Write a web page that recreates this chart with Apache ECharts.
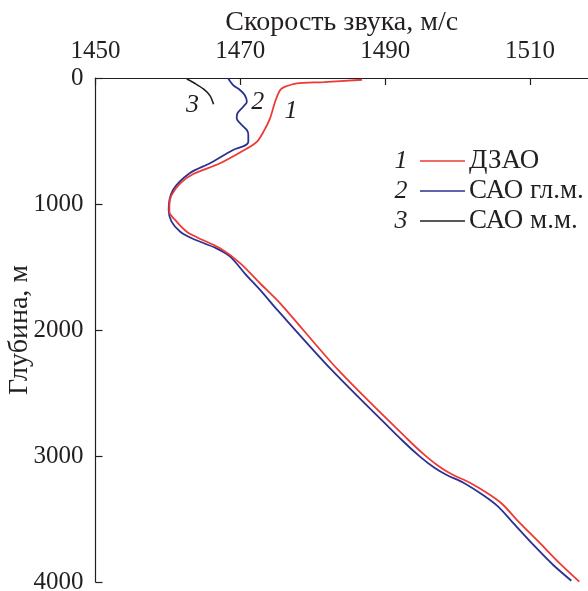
<!DOCTYPE html>
<html><head><meta charset="utf-8">
<script src="https://cdn.jsdelivr.net/npm/echarts@6/dist/echarts.min.js"></script>
<style>html,body{margin:0;padding:0;background:#fff}#c{width:588px;height:591px}</style>
</head><body><div id="c"></div>
<script>
// Sound speed (m/s) vs depth (m)
const seriesNames = ['ДЗАО', 'САО гл.м.', 'САО м.м.'];
const seriesNums = ['1', '2', '3'];
const seriesColors = ['#ee3a34', '#2b3190', '#231f20'];
const xTicks = [1450, 1470, 1490, 1510];

const dzaoSpeed = [1486.8,1481.5,1477.8,1476.2,1475.5,1474.8,1474.1,1473.2,1472.3,1470.9,1467.2,1463.5,1461.7,1460.5,1460.2,1460.2,1461.2,1462.6,1464.0,1467.2,1470.0,1472.7,1475.5,1483.5,1493.2,1495.7,1497.8,1499.4,1501.7,1504.5,1506.3,1508.2,1511.4,1514.1,1516.8];
const dzaoDepth = [14,32,42,69,95,188,320,426,505,560,677,762,836,929,1008,1061,1140,1220,1264,1352,1471,1629,1788,2317,2873,3005,3098,3151,3212,3310,3389,3508,3693,3852,3997];

const saoMainSpeed = [1468.3,1469.0,1469.95,1470.6,1470.9,1470.4,1469.6,1469.5,1470.2,1470.9,1471.1,1471.1,1470.6,1469.0,1465.8,1463.0,1460.7,1460.1,1460.5,1461.7,1463.3,1466.7,1468.6,1470.6,1473.0,1475.1,1482.6,1492.3,1494.8,1496.9,1498.5,1500.8,1503.5,1505.6,1507.5,1510.7,1513.2,1515.7];
const saoMainDepth = [2,56,95,135,188,228,280,320,373,413,452,505,537,571,677,756,889,1048,1140,1220,1272,1352,1418,1550,1700,1841,2317,2873,3005,3098,3151,3212,3310,3402,3521,3720,3865,3990];

const saoSmallSpeed = [1462.6,1463.7,1464.9,1465.8,1466.3];
const saoSmallDepth = [8,42,87,140,209];

const zip = (a, b) => a.map((v, i) => [v, b[i]]);
const FONT = 'Liberation Serif';
const INK = '#231f20';

const chart = echarts.init(document.getElementById('c'), null, {renderer: 'canvas'});

function curveLabel(text, coord) {
  return {
    symbol: 'circle', symbolSize: 1,
    itemStyle: {color: 'rgba(0,0,0,0)'},
    data: [{coord: coord, value: text}],
    label: {show: true, position: 'inside', formatter: text, fontFamily: FONT,
            fontStyle: 'italic', fontSize: 26, color: INK}
  };
}

const series = [
  {name: seriesNames[0], type: 'line', data: zip(dzaoSpeed, dzaoDepth), smooth: 0.3,
   showSymbol: false, lineStyle: {color: seriesColors[0], width: 1.8}, z: 3,
   markPoint: curveLabel(seriesNums[0], [1477.0, 262])},
  {name: seriesNames[1], type: 'line', data: zip(saoMainSpeed, saoMainDepth), smooth: 0.3,
   showSymbol: false, lineStyle: {color: seriesColors[1], width: 1.8}, z: 2,
   markPoint: curveLabel(seriesNums[1], [1472.4, 188])},
  {name: seriesNames[2], type: 'line', data: zip(saoSmallSpeed, saoSmallDepth), smooth: 0.3,
   showSymbol: false, lineStyle: {color: seriesColors[2], width: 1.6}, z: 2,
   markPoint: curveLabel(seriesNums[2], [1463.4, 214])}
];

// legend drawn as graphic rows
const legendGraphics = [];
seriesNames.forEach((name, i) => {
  const y = 161 + i * 30;
  legendGraphics.push({type: 'text', x: 401, y: y, 
    style: {text: seriesNums[i], font: 'italic 26px "Liberation Serif"', fill: INK,
            align: 'center', verticalAlign: 'middle'}});
  legendGraphics.push({type: 'line', shape: {x1: 420, y1: y, x2: 465, y2: y},
    style: {stroke: seriesColors[i], lineWidth: 1.6}});
  legendGraphics.push({type: 'text', x: 469, y: y,
    style: {text: name, font: '27px "Liberation Serif"', fill: INK,
            align: 'left', verticalAlign: 'middle'}});
});

chart.setOption({
  animation: false,
  backgroundColor: '#fff',
  grid: {left: 95.5, right: 0, top: 78, bottom: 9, outerBoundsMode: 'none', containLabel: false},
  xAxis: {
    type: 'value', position: 'top', min: 1450, max: 1518, interval: 20,
    name: 'Скорость звука, м/с', nameLocation: 'middle', nameGap: 41, nameMoveOverlap: false,
    nameTextStyle: {fontFamily: FONT, fontSize: 28, color: INK},
    axisLine: {show: true, lineStyle: {color: INK, width: 1.2}},
    axisTick: {show: true, inside: true, length: 7, customValues: xTicks, lineStyle: {color: INK, width: 1.2}},
    axisLabel: {customValues: xTicks, margin: 14, fontFamily: FONT, fontSize: 25, color: INK,
                formatter: v => String(v)},
    splitLine: {show: false}
  },
  yAxis: {
    type: 'value', inverse: true, min: 0, max: 4000, interval: 1000,
    name: 'Глубина, м', nameLocation: 'middle', nameGap: 62, nameRotate: 90, nameMoveOverlap: false,
    nameTextStyle: {fontFamily: FONT, fontSize: 28, color: INK},
    axisLine: {show: true, lineStyle: {color: INK, width: 1.2}},
    axisTick: {show: true, inside: true, length: 7, lineStyle: {color: INK, width: 1.2}},
    axisLabel: {margin: 12, fontFamily: FONT, fontSize: 25, color: INK, formatter: v => String(v)},
    splitLine: {show: false}
  },
  series: series,
  graphic: legendGraphics
});
</script></body></html>
